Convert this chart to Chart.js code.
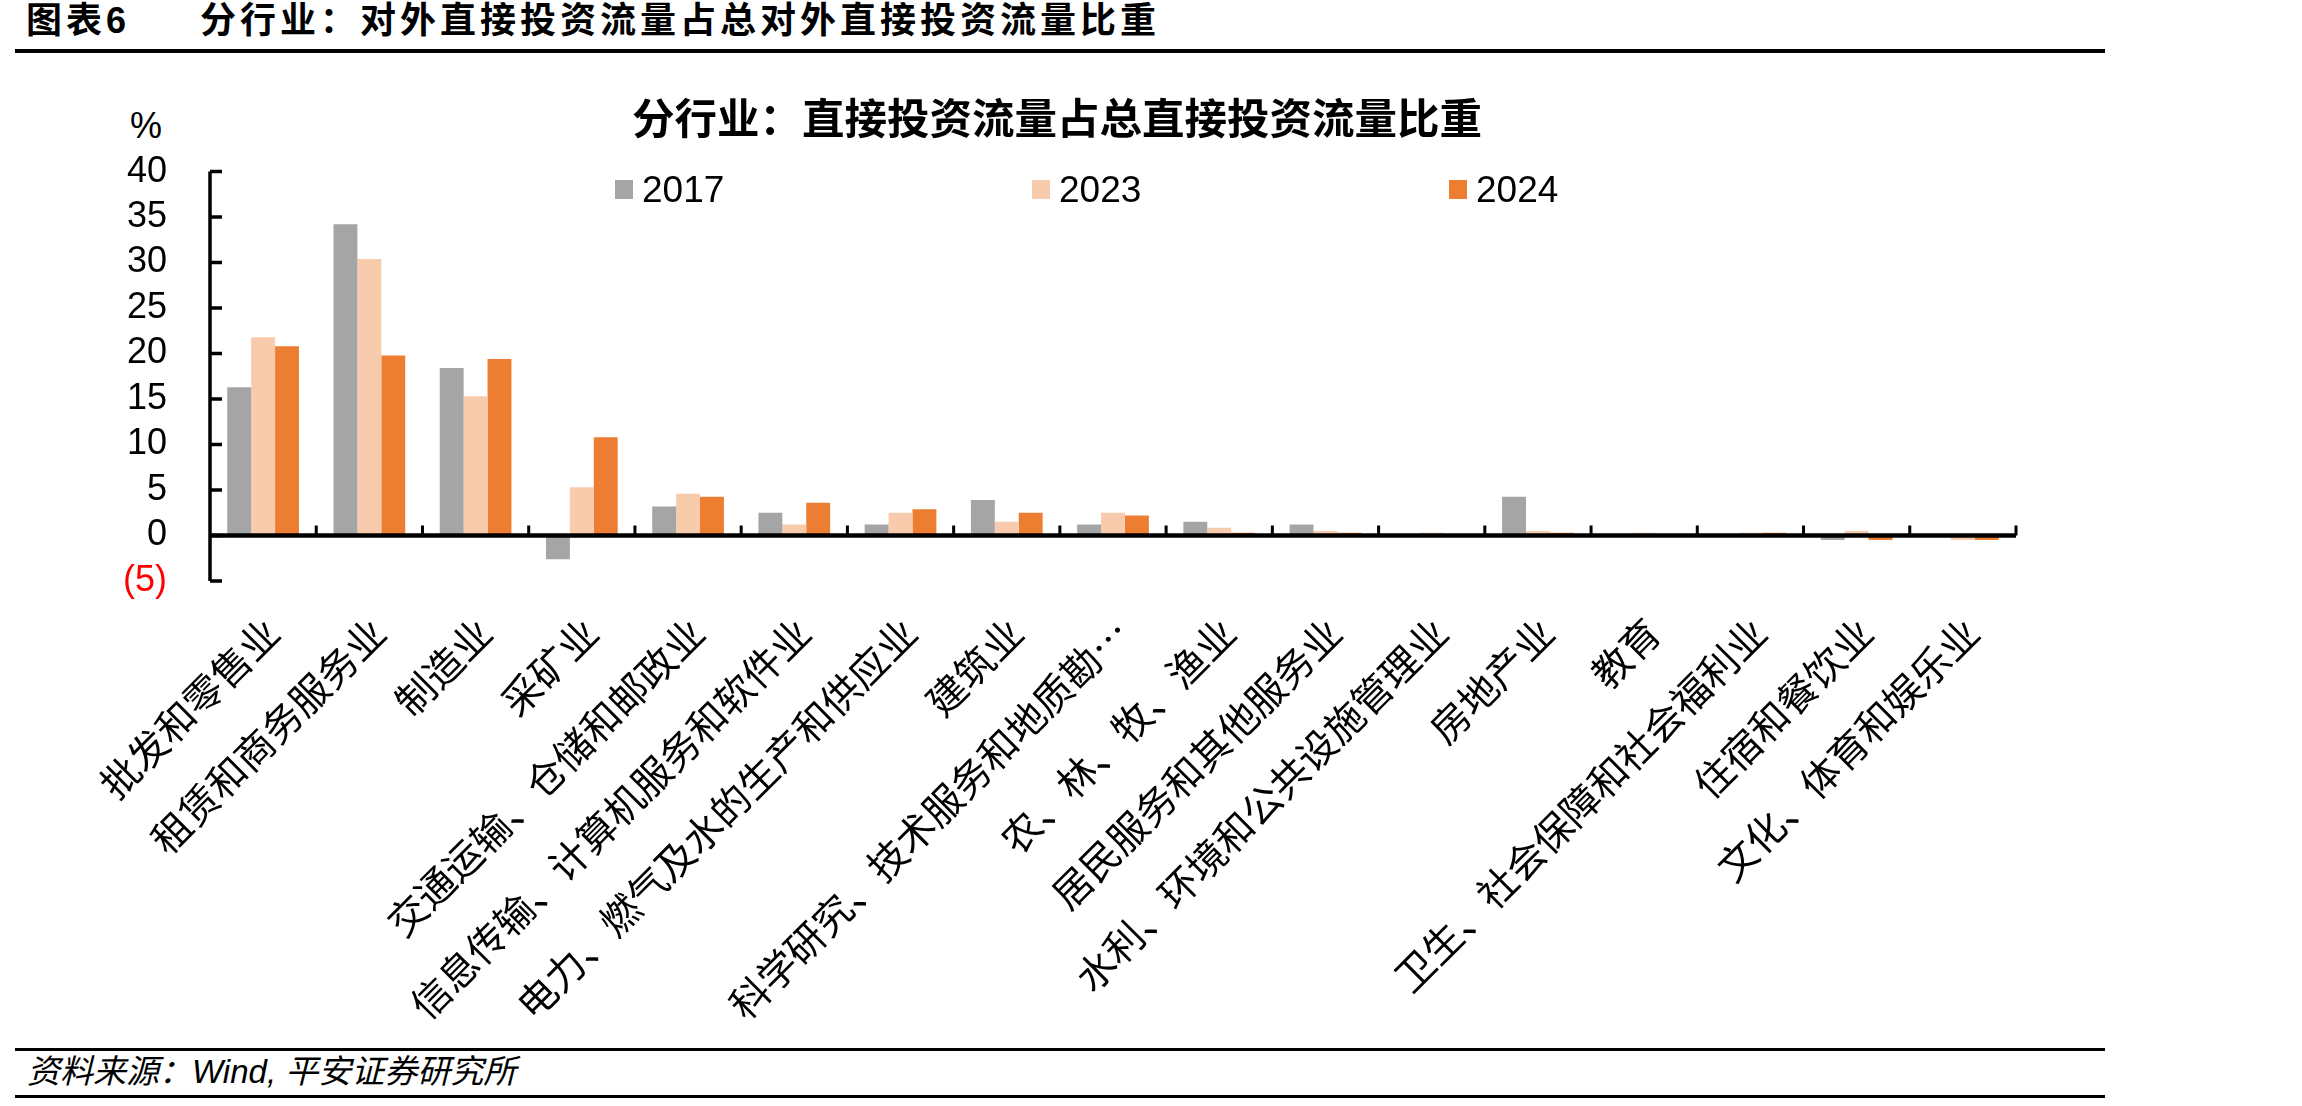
<!DOCTYPE html>
<html lang="zh-CN">
<head>
<meta charset="utf-8">
<title>分行业：直接投资流量占总直接投资流量比重</title>
<script src="https://cdn.jsdelivr.net/npm/chart.js@4.4.1/dist/chart.umd.min.js"></script>
<style>
  html, body { margin: 0; padding: 0; background: #fff; }
  body { width: 2302px; height: 1106px; position: relative; overflow: hidden;
         font-family: "Liberation Sans", "Noto Sans CJK SC", sans-serif; color: #000; }
  .head { position: absolute; top: 3px; font-size: 36px; line-height: 36px; font-weight: bold;
          letter-spacing: 4px; white-space: nowrap; }
  .rule { position: absolute; left: 15px; width: 2090px; background: #000; }
  .source { position: absolute; left: 27px; top: 1055px; font-size: 33px; line-height: 33px;
            font-style: italic; white-space: nowrap; }
  .unit { position: absolute; left: 116px; top: 108px; width: 60px; text-align: center;
          font-size: 36px; line-height: 36px; }
  #chartBox { position: absolute; left: 0; top: 60px; width: 2114px; height: 990px; }
  .legend-item { position: absolute; top: 171px; height: 37px; display: flex; align-items: center;
                 font-size: 37px; line-height: 37px; white-space: nowrap; }
  .legend-item i { display: inline-block; width: 18px; height: 19px; margin-right: 9px; }
</style>
</head>
<body>
<div class="head" style="left:26px">图表6</div>
<div class="head" style="left:200px">分行业：对外直接投资流量占总对外直接投资流量比重</div>
<div class="rule" style="top:49px;height:4px"></div>
<div class="unit">%</div>
<div id="chartBox"><canvas id="chart"></canvas></div>
<div id="legend"></div>
<div class="rule" style="top:1048px;height:3px"></div>
<div class="source">资料来源：Wind, 平安证券研究所</div>
<div class="rule" style="top:1095px;height:3px"></div>

<script>
const chartTitle = '分行业：直接投资流量占总直接投资流量比重';

const categories = [
  '批发和零售业', '租赁和商务服务业', '制造业', '采矿业',
  '交通运输、仓储和邮政业', '信息传输、计算机服务和软件业',
  '电力、燃气及水的生产和供应业', '建筑业', '科学研究、技术服务和地质勘…',
  '农、林、牧、渔业', '居民服务和其他服务业', '水利、环境和公共设施管理业',
  '房地产业', '教育', '卫生、社会保障和社会福利业', '住宿和餐饮业', '文化、体育和娱乐业'
];

const seriesNames = ['2017', '2023', '2024'];
const seriesColors = ['#A5A5A5', '#F8CBAD', '#ED7D31'];

const v2017 = [16.3, 34.2, 18.4, -2.6, 3.2, 2.5, 1.2, 3.9, 1.2, 1.5, 1.2, 0.1, 4.25, 0.1, 0.1, -0.5, 0];
const v2023 = [21.8, 30.4, 15.3, 5.3, 4.6, 1.2, 2.5, 1.5, 2.5, 0.85, 0.5, 0.3, 0.5, 0.3, 0.3, 0.5, -0.5];
const v2024 = [20.8, 19.8, 19.4, 10.8, 4.25, 3.6, 2.9, 2.5, 2.2, 0.3, 0.3, 0.1, 0.3, 0.1, 0.3, -0.5, -0.5];

const yMin = -5;
const yMax = 40;
const yStep = 5;

const cjkFont = '"Noto Sans CJK SC", sans-serif';
const numFont = '"Liberation Sans", Arial, sans-serif';

// legend drawn as html so it can sit inside the plot like the original
const legend = document.getElementById('legend');
seriesNames.forEach((name, i) => {
  const item = document.createElement('div');
  item.className = 'legend-item';
  item.style.left = (615 + i * 417) + 'px';
  item.innerHTML = `<i style="background:${seriesColors[i]}"></i>${name}`;
  legend.appendChild(item);
});

// axis line with inward ticks, zero line and category ticks
const axisMarks = {
  id: 'axisMarks',
  afterDatasetsDraw(chart) {
    const { ctx, chartArea, scales: { x, y } } = chart;
    const zeroY = y.getPixelForValue(0);
    ctx.save();
    ctx.strokeStyle = '#000';
    ctx.lineWidth = 3.5;
    ctx.beginPath();
    ctx.moveTo(chartArea.left, chartArea.top);
    ctx.lineTo(chartArea.left, chartArea.bottom);
    y.ticks.forEach(t => {
      const py = y.getPixelForValue(t.value);
      ctx.moveTo(chartArea.left, py);
      ctx.lineTo(chartArea.left + 12, py);
    });
    ctx.stroke();

    ctx.lineWidth = 3;
    ctx.beginPath();
    for (let i = 1; i <= categories.length; i++) {
      const px = x.getPixelForValue(i - 0.5);
      ctx.moveTo(px, zeroY);
      ctx.lineTo(px, zeroY - 10);
    }
    ctx.stroke();

    ctx.lineWidth = 4.5;
    ctx.beginPath();
    ctx.moveTo(chartArea.left, zeroY);
    ctx.lineTo(chartArea.right, zeroY);
    ctx.stroke();
    ctx.restore();
  }
};

const values = [v2017, v2023, v2024];

new Chart(document.getElementById('chart'), {
  type: 'bar',
  data: {
    labels: categories,
    datasets: seriesNames.map((name, i) => ({
      label: name,
      data: values[i],
      backgroundColor: seriesColors[i],
      borderWidth: 0,
      barPercentage: 1,
      categoryPercentage: 0.675
    }))
  },
  options: {
    responsive: true,
    maintainAspectRatio: false,
    animation: false,
    devicePixelRatio: 1,
    // left/right padding equal so the title centres where the original does
    layout: { padding: { left: 98, right: 98, top: 0, bottom: 0 } },
    plugins: {
      legend: { display: false },
      tooltip: { enabled: false },
      title: {
        display: true,
        text: chartTitle,
        color: '#000',
        font: { family: cjkFont, size: 42.5, weight: 'bold' },
        padding: { top: 32, bottom: 28.6 }
      }
    },
    scales: {
      x: {
        grid: { display: false, drawTicks: false },
        border: { display: false },
        ticks: {
          autoSkip: false,
          maxRotation: 45,
          minRotation: 45,
          padding: 28,
          labelOffset: 9,
          color: '#000',
          font: { family: cjkFont, size: 39 }
        },
        afterFit(scale) { scale.height = 469; }
      },
      y: {
        min: yMin,
        max: yMax,
        grid: { display: false, drawTicks: false },
        border: { display: false },
        ticks: {
          autoSkip: false,
          stepSize: yStep,
          padding: 43,
          color: c => c.tick.value < 0 ? '#FF0000' : '#000',
          font: { family: numFont, size: 36 },
          callback: v => v < 0 ? '(' + Math.abs(v) + ')' : v
        },
        afterFit(scale) { scale.width = 112; }
      }
    }
  },
  plugins: [axisMarks]
});
</script>
</body>
</html>
